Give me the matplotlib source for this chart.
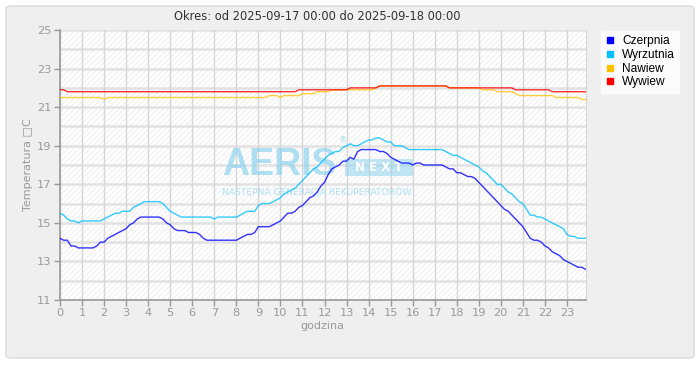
import matplotlib
matplotlib.use("Agg")
import matplotlib.pyplot as plt
from matplotlib.patches import FancyBboxPatch, Rectangle
from matplotlib.lines import Line2D
import numpy as np

# ---- data (10-minute samples, 0:00 .. 23:50) ----
hours = np.arange(144) / 6.0

czerpnia = [
    14.2, 14.1, 14.1, 13.8, 13.8, 13.7,
    13.7, 13.7, 13.7, 13.7, 13.8, 14.0,
    14.0, 14.2, 14.3, 14.4, 14.5, 14.6,
    14.7, 14.9, 15.0, 15.2, 15.3, 15.3,
    15.3, 15.3, 15.3, 15.3, 15.2, 15.0,
    14.9, 14.7, 14.6, 14.6, 14.6, 14.5,
    14.5, 14.5, 14.4, 14.2, 14.1, 14.1,
    14.1, 14.1, 14.1, 14.1, 14.1, 14.1,
    14.1, 14.2, 14.3, 14.4, 14.4, 14.5,
    14.8, 14.8, 14.8, 14.8, 14.9, 15.0,
    15.1, 15.3, 15.5, 15.5, 15.6, 15.8,
    15.9, 16.1, 16.3, 16.4, 16.6, 16.9,
    17.1, 17.5, 17.8, 17.9, 18.0, 18.2,
    18.2, 18.4, 18.3, 18.7, 18.8, 18.8,
    18.8, 18.8, 18.8, 18.7, 18.7, 18.6,
    18.4, 18.3, 18.2, 18.1, 18.1, 18.1,
    18.0, 18.1, 18.1, 18.0, 18.0, 18.0,
    18.0, 18.0, 18.0, 17.9, 17.8, 17.8,
    17.6, 17.6, 17.5, 17.4, 17.4, 17.3,
    17.1, 16.9, 16.7, 16.5, 16.3, 16.1,
    15.9, 15.7, 15.6, 15.4, 15.2, 15.0,
    14.8, 14.5, 14.2, 14.1, 14.1, 14.0,
    13.8, 13.7, 13.5, 13.4, 13.3, 13.1,
    13.0, 12.9, 12.8, 12.7, 12.7, 12.6,
]

wyrzutnia = [
    15.5, 15.4, 15.2, 15.1, 15.1, 15.0,
    15.1, 15.1, 15.1, 15.1, 15.1, 15.1,
    15.2, 15.3, 15.4, 15.5, 15.5, 15.6,
    15.6, 15.6, 15.8, 15.9, 16.0, 16.1,
    16.1, 16.1, 16.1, 16.1, 16.0, 15.8,
    15.6, 15.5, 15.4, 15.3, 15.3, 15.3,
    15.3, 15.3, 15.3, 15.3, 15.3, 15.3,
    15.2, 15.3, 15.3, 15.3, 15.3, 15.3,
    15.3, 15.4, 15.5, 15.6, 15.6, 15.6,
    15.9, 16.0, 16.0, 16.0, 16.1, 16.2,
    16.3, 16.5, 16.6, 16.7, 16.8, 17.0,
    17.2, 17.4, 17.6, 17.8, 17.9, 18.1,
    18.3, 18.5, 18.6, 18.7, 18.7, 18.9,
    19.0, 19.1, 19.0, 19.0, 19.1, 19.2,
    19.3, 19.3, 19.4, 19.4, 19.3, 19.2,
    19.2, 19.0, 19.0, 19.0, 18.9, 18.8,
    18.8, 18.8, 18.8, 18.8, 18.8, 18.8,
    18.8, 18.8, 18.8, 18.7, 18.6, 18.5,
    18.5, 18.4, 18.3, 18.2, 18.1, 18.0,
    17.9, 17.7, 17.6, 17.4, 17.2, 17.0,
    17.0, 16.8, 16.6, 16.5, 16.3, 16.1,
    16.0, 15.7, 15.4, 15.4, 15.3, 15.3,
    15.2, 15.1, 15.0, 14.9, 14.8, 14.7,
    14.4, 14.3, 14.3, 14.2, 14.2, 14.2,
]

nawiew = [
    21.5, 21.5, 21.5, 21.5, 21.5, 21.5,
    21.5, 21.5, 21.5, 21.5, 21.5, 21.5,
    21.4, 21.5, 21.5, 21.5, 21.5, 21.5,
    21.5, 21.5, 21.5, 21.5, 21.5, 21.5,
    21.5, 21.5, 21.5, 21.5, 21.5, 21.5,
    21.5, 21.5, 21.5, 21.5, 21.5, 21.5,
    21.5, 21.5, 21.5, 21.5, 21.5, 21.5,
    21.5, 21.5, 21.5, 21.5, 21.5, 21.5,
    21.5, 21.5, 21.5, 21.5, 21.5, 21.5,
    21.5, 21.5, 21.5, 21.6, 21.6, 21.6,
    21.5, 21.6, 21.6, 21.6, 21.6, 21.6,
    21.7, 21.7, 21.7, 21.7, 21.8, 21.8,
    21.8, 21.8, 21.9, 21.9, 21.9, 21.9,
    21.9, 21.9, 21.9, 21.9, 21.9, 21.9,
    21.9, 21.9, 22.0, 22.1, 22.1, 22.1,
    22.1, 22.1, 22.1, 22.1, 22.1, 22.1,
    22.1, 22.1, 22.1, 22.1, 22.1, 22.1,
    22.1, 22.1, 22.1, 22.1, 22.0, 22.0,
    22.0, 22.0, 22.0, 22.0, 22.0, 22.0,
    22.0, 21.9, 21.9, 21.9, 21.9, 21.8,
    21.8, 21.8, 21.8, 21.8, 21.7, 21.6,
    21.6, 21.6, 21.6, 21.6, 21.6, 21.6,
    21.6, 21.6, 21.6, 21.5, 21.5, 21.5,
    21.5, 21.5, 21.5, 21.5, 21.4, 21.4,
]

wywiew = [
    21.9, 21.9, 21.8, 21.8, 21.8, 21.8,
    21.8, 21.8, 21.8, 21.8, 21.8, 21.8,
    21.8, 21.8, 21.8, 21.8, 21.8, 21.8,
    21.8, 21.8, 21.8, 21.8, 21.8, 21.8,
    21.8, 21.8, 21.8, 21.8, 21.8, 21.8,
    21.8, 21.8, 21.8, 21.8, 21.8, 21.8,
    21.8, 21.8, 21.8, 21.8, 21.8, 21.8,
    21.8, 21.8, 21.8, 21.8, 21.8, 21.8,
    21.8, 21.8, 21.8, 21.8, 21.8, 21.8,
    21.8, 21.8, 21.8, 21.8, 21.8, 21.8,
    21.8, 21.8, 21.8, 21.8, 21.8, 21.9,
    21.9, 21.9, 21.9, 21.9, 21.9, 21.9,
    21.9, 21.9, 21.9, 21.9, 21.9, 21.9,
    21.9, 22.0, 22.0, 22.0, 22.0, 22.0,
    22.0, 22.0, 22.0, 22.1, 22.1, 22.1,
    22.1, 22.1, 22.1, 22.1, 22.1, 22.1,
    22.1, 22.1, 22.1, 22.1, 22.1, 22.1,
    22.1, 22.1, 22.1, 22.1, 22.0, 22.0,
    22.0, 22.0, 22.0, 22.0, 22.0, 22.0,
    22.0, 22.0, 22.0, 22.0, 22.0, 22.0,
    22.0, 22.0, 22.0, 22.0, 21.9, 21.9,
    21.9, 21.9, 21.9, 21.9, 21.9, 21.9,
    21.9, 21.9, 21.8, 21.8, 21.8, 21.8,
    21.8, 21.8, 21.8, 21.8, 21.8, 21.8,
]

series_names = ["Czerpnia", "Wyrzutnia", "Nawiew", "Wywiew"]
series_values = [czerpnia, wyrzutnia, nawiew, wywiew]
series_colors = ["#0000ff", "#00bfff", "#ffc000", "#ff0000"]
x_ticks = list(range(0, 24))
y_ticks = [11, 13, 15, 17, 19, 21, 23, 25]
title = "Okres: od 2025-09-17 00:00 do 2025-09-18 00:00"

# ---- figure ----
W, H = 700, 380
fig = plt.figure(figsize=(W / 100, H / 100), dpi=100)
fig.patch.set_facecolor("white")

# outer rounded panel
panel = FancyBboxPatch((6 / W, 1 - 358 / H), 688 / W, 352 / H,
                       boxstyle="round,pad=0,rounding_size=0.008",
                       transform=fig.transFigure, facecolor="#efefef",
                       edgecolor="#dedede", linewidth=1.2, zorder=-10)
fig.patches.append(panel)

left, right, top, bottom = 60, 585.5, 30, 300
ax = fig.add_axes([left / W, 1 - bottom / H, (right - left) / W, (bottom - top) / H])
ax.set_zorder(5)
ax.set_facecolor("white")
ax.set_xlim(0, 23.84)
ax.set_ylim(11, 25)

# hatch background
plt.rcParams["hatch.linewidth"] = 0.6
ax.add_patch(Rectangle((0, 0), 1, 1, transform=ax.transAxes, facecolor="white",
                       edgecolor="#ececec", hatch="//////", linewidth=0, zorder=0))

# grid
for yv in range(11, 26):
    ax.axhline(yv, color="#e2e2e2", linewidth=1.8, zorder=1)
for xv in x_ticks:
    ax.axvline(xv, color="#d6d6d6", linewidth=1.0, zorder=1)

# watermark (logo text)
wm = "#8fd3f0"
ax.text(0.308, 0.462, "AERIS", transform=ax.transAxes, fontsize=27, fontweight="bold",
        color=wm, alpha=0.7, ha="left", va="baseline",
        family=["Liberation Sans Narrow", "Liberation Sans", "DejaVu Sans"], zorder=2)
ax.text(0.538, 0.59, "®", transform=ax.transAxes, fontsize=6, color=wm, alpha=0.7,
        ha="center", va="center", zorder=2)
ax.add_patch(Rectangle((0.543, 0.46), 0.128, 0.064, transform=ax.transAxes,
                       facecolor=wm, alpha=0.55, linewidth=0, zorder=2))
ax.text(0.607, 0.492, "N E X T", transform=ax.transAxes, fontsize=8.5, fontweight="bold",
        color="white", ha="center", va="center", zorder=2)
ax.text(0.308, 0.422, "NASTĘPNA GENERACJA REKUPERATORÓW", transform=ax.transAxes,
        fontsize=6.6, color=wm, alpha=0.7, ha="left", va="top", zorder=2)

# lines
line_alpha = [0.8, 0.8, 0.75, 0.8]
for name, vals, col, a in zip(series_names, series_values, series_colors, line_alpha):
    ax.plot(hours, vals, color=col, linewidth=1.0, alpha=a, zorder=3)

# axes styling
ax.set_xticks(x_ticks)
ax.set_yticks(y_ticks)
ax.tick_params(axis="both", colors="#999999", labelcolor="#999999", labelsize=8.2,
               length=4, width=1, direction="out", pad=2)
ax.spines["top"].set_visible(False)
ax.spines["right"].set_color("#d6d6d6")
ax.spines["left"].set_color("#999999")
ax.spines["bottom"].set_color("#999999")
ax.spines["left"].set_linewidth(1.2)
ax.spines["bottom"].set_linewidth(1.2)

ax.set_xlabel("godzina", color="#999999", fontsize=8, labelpad=2)
ax.set_ylabel("Temperatura \u25a1C", color="#999999", fontsize=8, labelpad=3)

fig.text(317 / W, 1 - 17 / H, title, ha="center", va="center",
         fontsize=8.3, color="#333333")

# legend
handles = [Line2D([], [], marker="s", linestyle="none", markersize=5,
                  markerfacecolor=c, markeredgecolor=c) for c in series_colors]
leg = fig.legend(handles, series_names, loc="upper left",
                 bbox_to_anchor=(600 / W, 1 - 30 / H), borderaxespad=0,
                 prop={"family": "Liberation Sans", "size": 8.6},
                 handlelength=0.8, handletextpad=0.6, labelspacing=0.14,
                 borderpad=0.45, frameon=True, fancybox=True)
leg.get_frame().set_facecolor("white")
leg.get_frame().set_edgecolor("#f2f2f2")
leg.get_frame().set_linewidth(0.8)

fig.savefig("out.png", dpi=100)
